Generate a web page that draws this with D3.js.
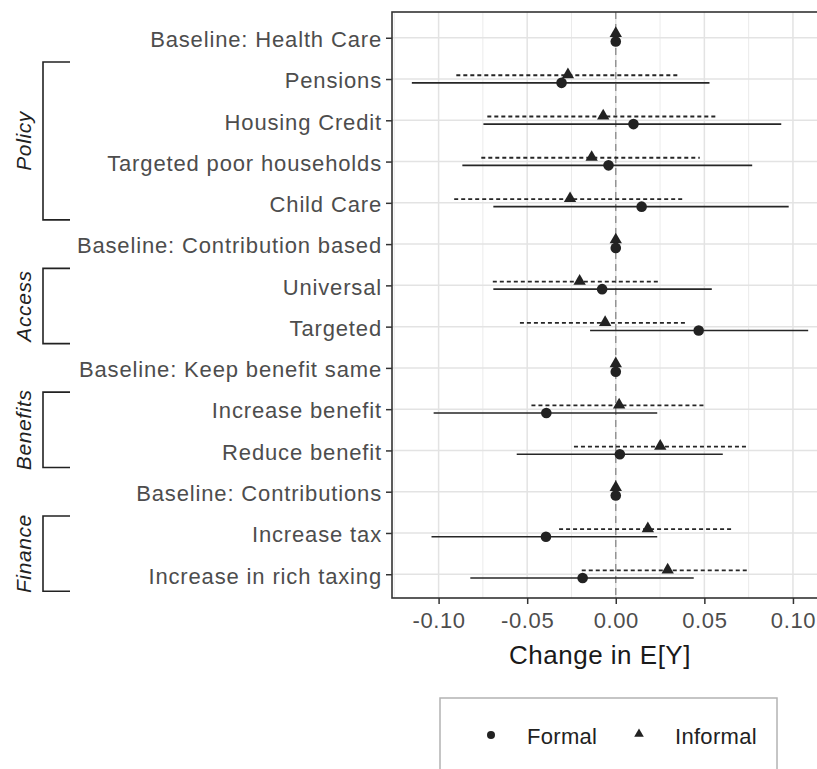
<!DOCTYPE html>
<html>
<head>
<meta charset="utf-8">
<script src="https://cdn.jsdelivr.net/npm/d3@7"></script>
<style>
  html, body { margin: 0; padding: 0; background: #fff; }
  svg { display: block; font-family: "Liberation Sans", Arial, sans-serif; }
</style>
</head>
<body>
<svg id="chart" width="817" height="769"></svg>
<script>
// ---- data ----
const categories = [
  "Baseline: Health Care", "Pensions", "Housing Credit", "Targeted poor households", "Child Care",
  "Baseline: Contribution based", "Universal", "Targeted",
  "Baseline: Keep benefit same", "Increase benefit", "Reduce benefit",
  "Baseline: Contributions", "Increase tax", "Increase in rich taxing"
];
const formalEst = [0, -0.0306, 0.0100, -0.0041, 0.0146, 0, -0.0077, 0.0468, 0, -0.0392, 0.0023, 0, -0.0394, -0.0187];
const formalLo  = [null, -0.1151, -0.0747, -0.0866, -0.0691, null, -0.0691, -0.0145, null, -0.1028, -0.0559, null, -0.1040, -0.0821];
const formalHi  = [null, 0.0529, 0.0934, 0.0770, 0.0976, null, 0.0542, 0.1086, null, 0.0234, 0.0604, null, 0.0234, 0.0440];
const informalEst = [0, -0.0270, -0.0071, -0.0136, -0.0258, 0, -0.0204, -0.0060, 0, 0.0019, 0.0251, 0, 0.0181, 0.0293];
const informalLo  = [null, -0.0900, -0.0725, -0.0759, -0.0912, null, -0.0694, -0.0541, null, -0.0476, -0.0236, null, -0.0320, -0.0192];
const informalHi  = [null, 0.0348, 0.0565, 0.0474, 0.0382, null, 0.0251, 0.0400, null, 0.0508, 0.0738, null, 0.0663, 0.0750];
const xTicks = [-0.10, -0.05, 0.00, 0.05, 0.10];
const xMinorTicks = [-0.125, -0.075, -0.025, 0.025, 0.075, 0.125];
const groupNames = ["Policy", "Access", "Benefits", "Finance"];
const groupFirst = ["Pensions", "Universal", "Increase benefit", "Increase tax"];
const groupLast  = ["Child Care", "Targeted", "Reduce benefit", "Increase in rich taxing"];
const seriesNames = ["Formal", "Informal"];

// ---- layout ----
const svg = d3.select("#chart");
const P = { left: 392, right: 822, top: 12, bottom: 598 };
const x = d3.scaleLinear().domain([-0.1263, 0.1164]).range([P.left, P.right]);
const y = d3.scalePoint().domain(categories).range([P.top + 1, P.bottom + 1]).padding(0.6);
const dodge = 3.8;

svg.append("clipPath").attr("id", "pclip").append("rect")
  .attr("x", P.left).attr("y", P.top).attr("width", P.right - P.left).attr("height", P.bottom - P.top);

const plot = svg.append("g").attr("clip-path", "url(#pclip)");

// grid
plot.selectAll(".gmin").data(xMinorTicks).enter().append("line")
  .attr("x1", d => x(d)).attr("x2", d => x(d)).attr("y1", P.top).attr("y2", P.bottom)
  .attr("stroke", "#ebebeb").attr("stroke-width", 1);
plot.selectAll(".gmaj").data(xTicks).enter().append("line")
  .attr("x1", d => x(d)).attr("x2", d => x(d)).attr("y1", P.top).attr("y2", P.bottom)
  .attr("stroke", "#e3e3e3").attr("stroke-width", 1.5);
plot.selectAll(".gy").data(categories).enter().append("line")
  .attr("x1", P.left).attr("x2", P.right).attr("y1", d => y(d)).attr("y2", d => y(d))
  .attr("stroke", "#e3e3e3").attr("stroke-width", 1.5);

// zero line
plot.append("line").attr("x1", x(0)).attr("x2", x(0)).attr("y1", P.top).attr("y2", P.bottom)
  .attr("stroke", "#8a8a8a").attr("stroke-width", 1.3).attr("stroke-dasharray", "7,5");

const rows = categories.map((c, i) => ({
  c, fe: formalEst[i], fl: formalLo[i], fh: formalHi[i],
  ie: informalEst[i], il: informalLo[i], ih: informalHi[i]
}));

// error bars
plot.selectAll(".ebi").data(rows.filter(r => r.il !== null)).enter().append("line")
  .attr("x1", r => x(r.il)).attr("x2", r => x(r.ih))
  .attr("y1", r => y(r.c) - dodge).attr("y2", r => y(r.c) - dodge)
  .attr("stroke", "#262626").attr("stroke-width", 1.8).attr("stroke-dasharray", "4,3");
plot.selectAll(".ebf").data(rows.filter(r => r.fl !== null)).enter().append("line")
  .attr("x1", r => x(r.fl)).attr("x2", r => x(r.fh))
  .attr("y1", r => y(r.c) + dodge).attr("y2", r => y(r.c) + dodge)
  .attr("stroke", "#262626").attr("stroke-width", 1.6);

// points
const tri = d3.symbol().type(d3.symbolTriangle).size(66);
plot.selectAll(".pi").data(rows).enter().append("path")
  .attr("d", tri)
  .attr("transform", r => `translate(${x(r.ie)},${y(r.c) - dodge - 0.5})`)
  .attr("fill", "#222");
plot.selectAll(".pf").data(rows).enter().append("circle")
  .attr("cx", r => x(r.fe)).attr("cy", r => y(r.c) + dodge).attr("r", 5.3)
  .attr("fill", "#222");

// panel border
svg.append("rect").attr("x", P.left).attr("y", P.top)
  .attr("width", P.right - P.left).attr("height", P.bottom - P.top)
  .attr("fill", "none").attr("stroke", "#333").attr("stroke-width", 1.6);

// axes
const xAxis = svg.append("g").attr("transform", `translate(0,${P.bottom})`)
  .call(d3.axisBottom(x).tickValues(xTicks).tickFormat(d3.format(".2f")).tickSize(6).tickPadding(8));
xAxis.select(".domain").remove();
xAxis.selectAll("line").attr("stroke", "#333").attr("stroke-width", 1.5);
xAxis.selectAll("text").attr("fill", "#4d4d4d").style("font-size", "22px")
  .style("letter-spacing", "0.6px")
  .text(d => d3.format(".2f")(d).replace("−", "-"));

const yAxis = svg.append("g").attr("transform", `translate(${P.left},0)`)
  .call(d3.axisLeft(y).tickSize(6).tickPadding(4));
yAxis.select(".domain").remove();
yAxis.selectAll("line").attr("stroke", "#333").attr("stroke-width", 1.5);
yAxis.selectAll("text").attr("fill", "#4d4d4d").style("font-size", "22px")
  .style("letter-spacing", "0.85px").attr("dy", "0.4em");

// axis title
svg.append("text").attr("x", (P.left + P.right) / 2 - 7).attr("y", 664)
  .attr("text-anchor", "middle").attr("fill", "#1a1a1a")
  .style("font-size", "26px").style("letter-spacing", "0.5px").text("Change in E[Y]");

// group brackets
const ext = 17, bx = 43, bx2 = 70;
groupNames.forEach((g, i) => {
  const y0 = y(groupFirst[i]) - ext, y1 = y(groupLast[i]) + ext;
  svg.append("path")
    .attr("d", `M${bx2},${y0}H${bx}V${y1}H${bx2}`)
    .attr("fill", "none").attr("stroke", "#222").attr("stroke-width", 1.6);
  svg.append("text")
    .attr("transform", `translate(31,${(y0 + y1) / 2}) rotate(-90)`)
    .attr("text-anchor", "middle").attr("fill", "#222")
    .style("font-size", "21px").style("letter-spacing", "0.6px")
    .style("font-style", "italic").text(g);
});

// legend
const L = { x: 440, y: 698, w: 337, h: 90 };
svg.append("rect").attr("x", L.x).attr("y", L.y).attr("width", L.w).attr("height", L.h)
  .attr("fill", "#fff").attr("stroke", "#b3b3b3").attr("stroke-width", 1.5);
const legX = [491, 639];
seriesNames.forEach((s, i) => {
  if (i === 0) {
    svg.append("circle").attr("cx", legX[i]).attr("cy", 735).attr("r", 4).attr("fill", "#222");
  } else {
    svg.append("path").attr("d", d3.symbol().type(d3.symbolTriangle).size(40))
      .attr("transform", `translate(${legX[i]},734)`).attr("fill", "#222");
  }
  svg.append("text").attr("x", legX[i] + 36).attr("y", 744)
    .attr("fill", "#222").style("font-size", "22px").style("letter-spacing", "0.3px").text(s);
});
</script>
</body>
</html>
